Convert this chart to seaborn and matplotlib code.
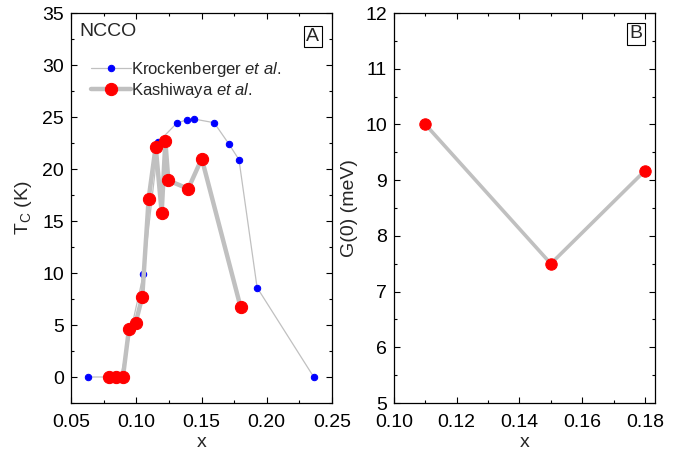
import matplotlib
matplotlib.use("Agg")
import matplotlib.pyplot as plt
import seaborn as sns
from matplotlib.ticker import MultipleLocator, FormatStrFormatter

# Data
kro_x = [0.063, 0.088, 0.1055, 0.117, 0.131, 0.139, 0.1445, 0.1597, 0.171, 0.1787, 0.1926, 0.236]
kro_tc = [0.0, 0.0, 9.9, 22.6, 24.4, 24.75, 24.8, 24.45, 22.4, 20.9, 8.6, 0.0]

kas_x = [0.0795, 0.0846, 0.0898, 0.0944, 0.0995, 0.1046, 0.1095, 0.1149, 0.1195, 0.1223, 0.1246, 0.1398, 0.1502, 0.18]
kas_tc = [0.0, 0.0, 0.0, 4.6, 5.2, 7.7, 17.15, 22.15, 15.8, 22.7, 18.9, 18.1, 21.0, 6.7]

gap_x = [0.11, 0.15, 0.18]
gap_g0 = [10.0, 7.5, 9.17]

sns.set_theme(style="ticks")
plt.rcParams['font.family'] = ['Liberation Sans', 'DejaVu Sans']
plt.rcParams['mathtext.fontset'] = 'custom'
plt.rcParams['mathtext.rm'] = 'Liberation Sans'
plt.rcParams['mathtext.it'] = 'Liberation Sans:italic'

fig = plt.figure(figsize=(6.89, 4.53), dpi=100)
ax1 = fig.add_axes([71/689, 1-403/453, (332-71)/689, (403-13)/453])
ax2 = fig.add_axes([394/689, 1-403/453, (655-394)/689, (403-13)/453])

gray = '#c0c0c0'
sns.lineplot(x=kro_x, y=kro_tc, ax=ax1, sort=False, estimator=None, color=gray, lw=0.9,
             marker='o', markersize=4.6, markerfacecolor='#0000ff', markeredgecolor='#0000ff',
             label='Krockenberger $\\it{et\\ al.}$')
sns.lineplot(x=kas_x, y=kas_tc, ax=ax1, sort=False, estimator=None, color=gray, lw=3.2,
             marker='o', markersize=8.8, markerfacecolor='#ff0000', markeredgecolor='#ff0000',
             label='Kashiwaya $\\it{et\\ al.}$')
sns.lineplot(x=gap_x, y=gap_g0, ax=ax2, sort=False, estimator=None, color=gray, lw=2.6,
             marker='o', markersize=8.2, markerfacecolor='#ff0000', markeredgecolor='#ff0000')

fs = 14
for ax in (ax1, ax2):
    ax.tick_params(which='both', direction='in', top=True, right=True, labelsize=fs, colors='black')
    ax.tick_params(which='major', length=4.5, width=0.8)
    ax.tick_params(which='minor', length=2.5, width=0.8)
    ax.tick_params(axis='x', which='major', pad=8)
    ax.tick_params(axis='y', which='major', pad=5)
    for s in ax.spines.values():
        s.set_linewidth(0.9)
        s.set_color('black')
    ax.set_xlabel('x', fontsize=fs, labelpad=2)

ax1.set_xlim(0.05, 0.25)
ax1.set_ylim(-2.5, 35)
ax1.xaxis.set_major_locator(MultipleLocator(0.05))
ax1.xaxis.set_minor_locator(MultipleLocator(0.025))
ax1.yaxis.set_major_locator(MultipleLocator(5))
ax1.yaxis.set_minor_locator(MultipleLocator(2.5))
ax1.xaxis.set_major_formatter(FormatStrFormatter('%.2f'))
ax1.set_ylabel('T$_\\mathrm{C}$ (K)', fontsize=fs, labelpad=6)

ax2.set_xlim(0.10, 0.1832)
ax2.set_ylim(5, 12)
ax2.xaxis.set_major_locator(MultipleLocator(0.02))
ax2.xaxis.set_minor_locator(MultipleLocator(0.01))
ax2.yaxis.set_major_locator(MultipleLocator(1))
ax2.yaxis.set_minor_locator(MultipleLocator(0.5))
ax2.xaxis.set_major_formatter(FormatStrFormatter('%.2f'))
ax2.set_ylabel('G(0) (meV)', fontsize=fs, labelpad=5)

ax1.text(0.034, 0.952, 'NCCO', transform=ax1.transAxes, fontsize=fs, va='center', ha='left')
box = dict(boxstyle='square,pad=0.12', fc='white', ec='black', lw=0.8)
ax1.text(0.927, 0.94, 'A', transform=ax1.transAxes, fontsize=fs, va='center', ha='center', bbox=box)
ax2.text(0.927, 0.947, 'B', transform=ax2.transAxes, fontsize=fs, va='center', ha='center', bbox=box)

leg = ax1.legend(loc='upper left', bbox_to_anchor=(0.077, 0.88), frameon=False, fontsize=12,
                 handlelength=2.4, handletextpad=0.0, borderaxespad=0, borderpad=0,
                 labelspacing=0.12)

fig.savefig('out.png', dpi=100)
